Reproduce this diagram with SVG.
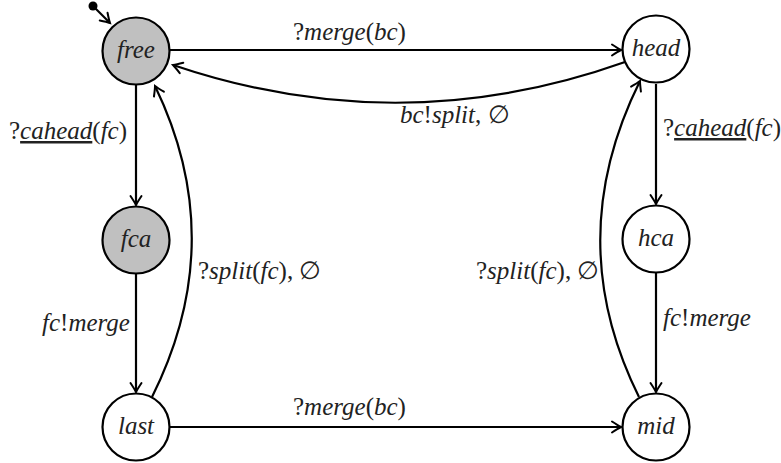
<svg xmlns="http://www.w3.org/2000/svg" width="781" height="463" viewBox="0 0 781 463">
<style>
text{font-family:'Liberation Serif',serif;font-style:italic;font-size:25px;fill:#222}
.u{font-style:normal}
.n{text-anchor:middle}
.st{fill:#fff;stroke:#000;stroke-width:2.2}
.g{fill:#c0c0c0}
.e{fill:none;stroke:#000;stroke-width:2.2;marker-end:url(#ah)}
.ul{text-decoration:underline}
</style>
<defs>
<marker id="ah" markerUnits="userSpaceOnUse" markerWidth="16" markerHeight="16" refX="0" refY="0" viewBox="-10 -8 12 16" orient="auto" overflow="visible">
<path d="M-9,-5.5 Q-3,-1.5 0,0 Q-3,1.5 -9,5.5" fill="none" stroke="#000" stroke-width="2" stroke-linecap="round"/>
</marker>
</defs>
<g id="edges" font-family="Liberation Serif, serif">
<circle cx="93" cy="6" r="4.5" fill="#000"/>
<line class="e" x1="93" y1="6" x2="110" y2="23"/>
<line class="e" x1="170" y1="50" x2="621" y2="50"/>
<path class="e" d="M625,62 Q400,142 173,65"/>
<line class="e" x1="136" y1="84" x2="136" y2="205"/>
<line class="e" x1="136" y1="274" x2="136" y2="392"/>
<path class="e" d="M152,397 Q230,241 155,86"/>
<line class="e" x1="656" y1="84" x2="656" y2="204"/>
<line class="e" x1="656" y1="273" x2="656" y2="392"/>
<path class="e" d="M639,397 Q561,240 640,81"/>
<line class="e" x1="169" y1="427" x2="621" y2="427"/>
<text x="293" y="40"><tspan class="u">?</tspan>merge<tspan class="u">(</tspan>bc<tspan class="u">)</tspan></text>
<text x="400" y="123">bc<tspan class="u">!</tspan>split<tspan class="u">, ∅</tspan></text>
<text x="9" y="139"><tspan class="u">?</tspan><tspan class="ul">cahead</tspan><tspan class="u">(</tspan>fc<tspan class="u">)</tspan></text>
<text x="42" y="331">fc<tspan class="u">!</tspan>merge</text>
<text x="198" y="279"><tspan class="u">?</tspan>split<tspan class="u">(</tspan>fc<tspan class="u">), ∅</tspan></text>
<text x="663" y="136"><tspan class="u">?</tspan><tspan class="ul">cahead</tspan><tspan class="u">(</tspan>fc<tspan class="u">)</tspan></text>
<text x="663" y="326">fc<tspan class="u">!</tspan>merge</text>
<text x="476" y="279"><tspan class="u">?</tspan>split<tspan class="u">(</tspan>fc<tspan class="u">), ∅</tspan></text>
<text x="293" y="415"><tspan class="u">?</tspan>merge<tspan class="u">(</tspan>bc<tspan class="u">)</tspan></text>
</g>
<g id="free"><circle class="st g" cx="136" cy="51" r="33.5"/><text class="n" x="136" y="58">free</text></g>
<g id="head"><circle class="st" cx="656" cy="49" r="33.5"/><text class="n" x="656" y="56">head</text></g>
<g id="fca"><circle class="st g" cx="136" cy="240" r="33.5"/><text class="n" x="136" y="247">fca</text></g>
<g id="hca"><circle class="st" cx="656" cy="239" r="33.5"/><text class="n" x="656" y="246">hca</text></g>
<g id="last"><circle class="st" cx="136" cy="427" r="33.5"/><text class="n" x="136" y="434">last</text></g>
<g id="mid"><circle class="st" cx="656" cy="427" r="33.5"/><text class="n" x="656" y="434">mid</text></g>
</svg>
